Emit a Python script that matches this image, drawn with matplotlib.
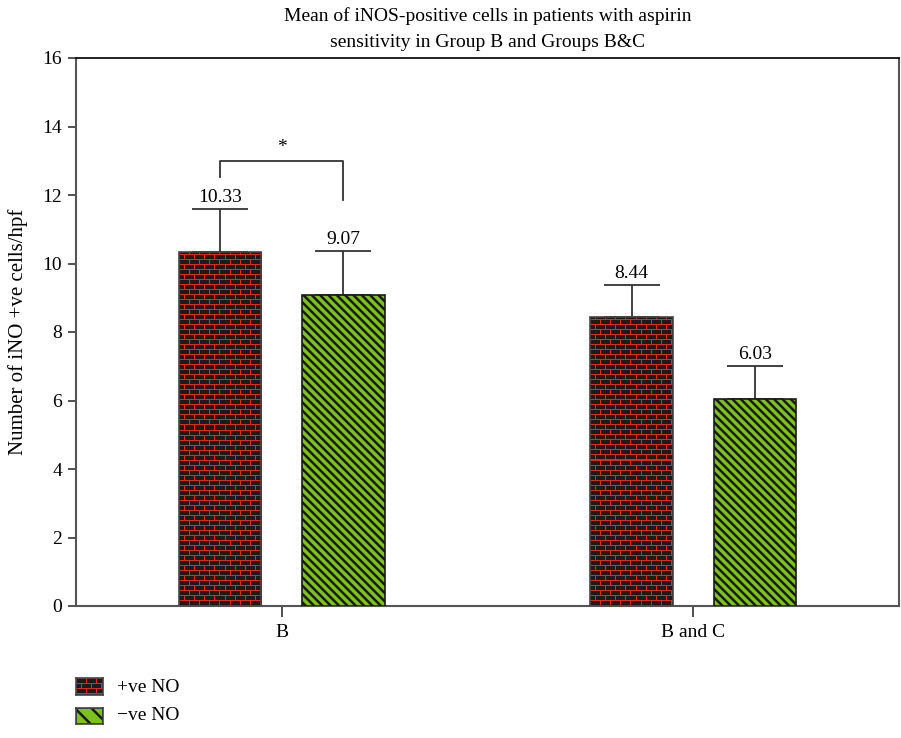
import numpy as np
import matplotlib.pyplot as plt
from matplotlib.patches import Rectangle

plt.rcParams['font.family'] = ['Liberation Serif', 'DejaVu Serif']
plt.rcParams['hatch.linewidth'] = 1.8

groups = ['B', 'B and C']
pos_no = [10.33, 8.44]
neg_no = [9.07, 6.03]
pos_err = [1.26, 0.93]
neg_err = [1.30, 0.98]
series_names = ['+ve NO', '\u2212ve NO']

green = '#7cc21a'
stripes = '\\\\\\\\'


def brick_texture(h, w, row=5, brick=10):
    # dark bricks with red mortar lines, staggered every other row
    yy, xx = np.mgrid[0:h, 0:w]
    r = yy // row
    shift = (r % 2) * (brick // 2)
    mortar = (yy % row == 0) | ((xx + shift) % brick == 0)
    img = np.empty((h, w, 3))
    img[:] = np.array([0x1e, 0x1a, 0x1a]) / 255
    img[mortar] = np.array([0xe0, 0x2a, 0x1e]) / 255
    return img


fig = plt.figure(figsize=(9.01, 7.38), dpi=100)
ax = fig.add_axes([76 / 901, 1 - 606 / 738, 823 / 901, 548 / 738])

x = np.arange(len(groups))
w = 0.2
off = 0.15

bars1 = ax.bar(x - off, pos_no, w, color='#1e1a1a', edgecolor='#444444', linewidth=1.2, zorder=3)
bars2 = ax.bar(x + off, neg_no, w, color=green, edgecolor='#1a1a1a', linewidth=1.2,
               hatch=stripes, zorder=3)

# brick fill clipped to each +ve bar
for b in bars1:
    bx, by = b.get_x(), b.get_y()
    bw, bh = b.get_width(), b.get_height()
    hpx = int(bh / 16 * 548)
    wpx = int(bw / 2 * 823)
    im = ax.imshow(brick_texture(hpx, wpx), extent=[bx, bx + bw, by, by + bh],
                   aspect='auto', interpolation='nearest', origin='lower', zorder=2.5)
    im.set_clip_path(b)
    b.set_facecolor('none')

ax.errorbar(x - off, pos_no, yerr=[np.zeros(2), pos_err], fmt='none', ecolor='#333333',
            elinewidth=1.3, capsize=20, capthick=1.3, zorder=2)
ax.errorbar(x + off, neg_no, yerr=[np.zeros(2), neg_err], fmt='none', ecolor='#333333',
            elinewidth=1.3, capsize=20, capthick=1.3, zorder=2)

for xi, v, e in zip(x - off, pos_no, pos_err):
    ax.text(xi, v + e + 0.08, f'{v:.2f}', ha='center', va='bottom', fontsize=14)
for xi, v, e in zip(x + off, neg_no, neg_err):
    ax.text(xi, v + e + 0.08, f'{v:.2f}', ha='center', va='bottom', fontsize=14)

# significance bracket between the two B bars
ax.plot([-off, -off, off, off], [12.53, 13.0, 13.0, 11.85], color='#333333', lw=1.3)
ax.text(0, 13.15, '*', ha='center', va='bottom', fontsize=14)

ax.set_xlim(-0.5, 1.5)
ax.set_ylim(0, 16)
ax.set_yticks(np.arange(0, 17, 2))
ax.set_xticks(x)
ax.set_xticklabels(groups)
ax.tick_params(axis='both', labelsize=14, color='#333333', width=1.2)
ax.tick_params(axis='y', length=6, pad=4)
ax.tick_params(axis='x', length=8, pad=5)
for s in ['left', 'bottom', 'right']:
    ax.spines[s].set_color('#555555')
    ax.spines[s].set_linewidth(1.5)
ax.spines['top'].set_color('#111111')
ax.spines['top'].set_linewidth(1.3)

ax.set_ylabel('Number of iNO +ve cells/hpf', fontsize=15, labelpad=10)
ax.set_title('Mean of iNOS-positive cells in patients with aspirin\n'
             'sensitivity in Group B and Groups B&C', fontsize=14, pad=8, linespacing=1.7)

# legend swatches
lx, lw_, lh = 76 / 901, 27 / 901, 17 / 738
leg1 = fig.add_axes([lx, 1 - 695 / 738, lw_, lh])
leg1.imshow(brick_texture(17, 27), aspect='auto', interpolation='nearest')
leg2 = fig.add_axes([lx, 1 - 724 / 738, lw_, 16 / 738])
leg2.add_patch(Rectangle((0, 0), 1, 1, facecolor=green, edgecolor='#1a1a1a', hatch='\\\\',
                         linewidth=1.2, transform=leg2.transAxes))
for la in (leg1, leg2):
    la.set_xticks([])
    la.set_yticks([])
    for s in la.spines.values():
        s.set_color('#444444')
        s.set_linewidth(1.2)
fig.text(117 / 901, 1 - 687 / 738, series_names[0], va='center', fontsize=14)
fig.text(117 / 901, 1 - 716 / 738, series_names[1], va='center', fontsize=14)

fig.savefig('out.png', dpi=100)
